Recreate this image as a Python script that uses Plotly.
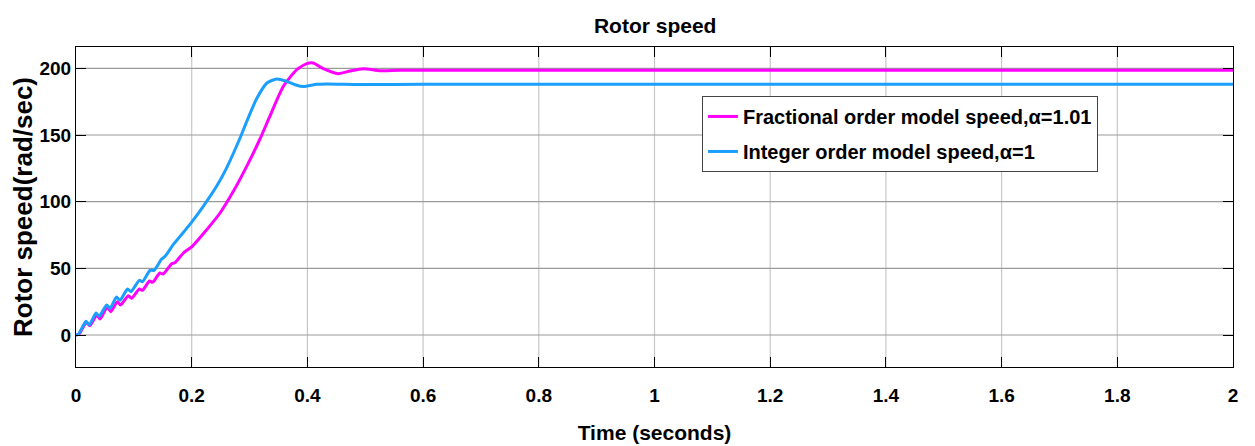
import plotly.graph_objects as go

# Fractional order model (alpha = 1.01) - magenta
t_frac = [0.0, 0.005, 0.018, 0.024, 0.036, 0.0415, 0.054, 0.060, 0.0715, 0.077, 0.0905, 0.096,
          0.1095, 0.115, 0.127, 0.1326, 0.145, 0.151, 0.1654, 0.171, 0.1856, 0.201, 0.226,
          0.249, 0.272, 0.295, 0.318, 0.335, 0.3585, 0.3816, 0.399, 0.41, 0.4275, 0.4535,
          0.4736, 0.4967, 0.5255, 0.56, 0.65, 1.0, 1.5, 2.0]
v_frac = [0.0, 0.5, 9.5, 7.0, 15.0, 12.0, 21.0, 17.5, 25.0, 22.5, 29.5, 27.5,
          34.5, 33.5, 40.5, 39.5, 46.5, 45.75, 53.5, 54.25, 61.5, 66.5, 79.0,
          91.5, 107.75, 126.5, 147.0, 164.0, 186.5, 199.0, 203.5, 204.0, 199.7, 196.0,
          198.0, 199.7, 198.2, 198.5, 198.5, 198.5, 198.5, 198.5]

# Integer order model (alpha = 1) - blue
t_int = [0.0, 0.004, 0.0173, 0.023, 0.0346, 0.040, 0.053, 0.059, 0.070, 0.076, 0.089, 0.095,
         0.1095, 0.115, 0.128, 0.135, 0.148, 0.154, 0.168, 0.18, 0.201, 0.22, 0.243, 0.26,
         0.2836, 0.295, 0.312, 0.33, 0.347, 0.364, 0.38, 0.393, 0.416, 0.433, 0.49, 0.6,
         1.0, 1.5, 2.0]
v_int = [0.0, 0.5, 10.25, 7.5, 16.5, 14.0, 22.5, 20.0, 28.5, 26.0, 34.5, 32.5,
         41.0, 40.0, 48.5, 48.5, 57.0, 59.0, 67.75, 74.0, 85.25, 96.5, 111.5, 125.0,
         147.75, 160.0, 177.0, 189.0, 192.0, 190.25, 187.5, 186.3, 188.0, 188.3, 187.9, 188.0,
         188.0, 188.0, 188.0]

x_ticks = [0, 0.2, 0.4, 0.6, 0.8, 1, 1.2, 1.4, 1.6, 1.8, 2]
x_tick_labels = ["0", "0.2", "0.4", "0.6", "0.8", "1", "1.2", "1.4", "1.6", "1.8", "2"]
y_ticks = [0, 50, 100, 150, 200]
y_tick_labels = ["0", "50", "100", "150", "200"]

FONT = "Liberation Sans, Arial, sans-serif"

fig = go.Figure()
fig.add_trace(go.Scatter(x=t_frac, y=v_frac, mode="lines", legendgroup="a",
                         line=dict(color="#FF00FF", width=3, shape="spline", smoothing=0.6),
                         name="<b>Fractional order model speed,α=1.01</b>"))
fig.add_trace(go.Scatter(x=t_int, y=v_int, mode="lines", legendgroup="b",
                         line=dict(color="#1A9FFF", width=3, shape="spline", smoothing=0.6),
                         name="<b>Integer order model speed,α=1</b>"))

# vertical grid lines (lighter) and horizontal grid (darker) via shapes
for xv in x_ticks[1:-1]:
    fig.add_shape(type="line", xref="x", yref="paper", x0=xv, x1=xv, y0=0, y1=1,
                  line=dict(color="#C8C8C8", width=1.2), layer="below")
for yv in y_ticks:
    fig.add_shape(type="line", xref="paper", yref="y", x0=0, x1=1, y0=yv, y1=yv,
                  line=dict(color="#9A9A9A", width=1.2), layer="below")

fig.update_layout(
    width=1247, height=438,
    margin=dict(l=68, r=22, t=39, b=79, autoexpand=False),
    paper_bgcolor="white", plot_bgcolor="white",
    title=dict(text="<b>Rotor speed</b>", x=0.519, xanchor="center", y=0.959, yanchor="middle",
               font=dict(family=FONT, size=21, color="black")),
    showlegend=True,
    legend=dict(x=0.541, y=0.847, xanchor="left", yanchor="top",
                bgcolor="white", bordercolor="#444", borderwidth=1,
                font=dict(family=FONT, size=20, color="black"),
                itemwidth=30, traceorder="grouped", tracegroupgap=6),
    xaxis=dict(range=[0, 2], tickvals=x_ticks, ticktext=["<b>%s</b>" % s for s in x_tick_labels],
               showgrid=False, zeroline=False, automargin=False,
               showline=True, linecolor="black", linewidth=1.2, mirror="ticks",
               ticks="inside", ticklen=10, tickcolor="black", tickwidth=1.2,
               ticklabelstandoff=11,
               tickfont=dict(family=FONT, size=19, color="black"),
               title=dict(text="<b>Time (seconds)</b>", standoff=20,
                          font=dict(family=FONT, size=21, color="black"))),
    yaxis=dict(range=[-24, 216], tickvals=y_ticks, ticktext=["<b>%s</b>" % s for s in y_tick_labels],
               showgrid=False, zeroline=False, automargin=False,
               showline=True, linecolor="black", linewidth=1.2, mirror="ticks",
               ticks="inside", ticklen=10, tickcolor="black", tickwidth=1.2,
               tickfont=dict(family=FONT, size=19, color="black"),
               title=dict(text="<b>Rotor speed(rad/sec)</b>", standoff=7,
                          font=dict(family=FONT, size=26, color="black"))),
)

fig.write_html("out.html")
